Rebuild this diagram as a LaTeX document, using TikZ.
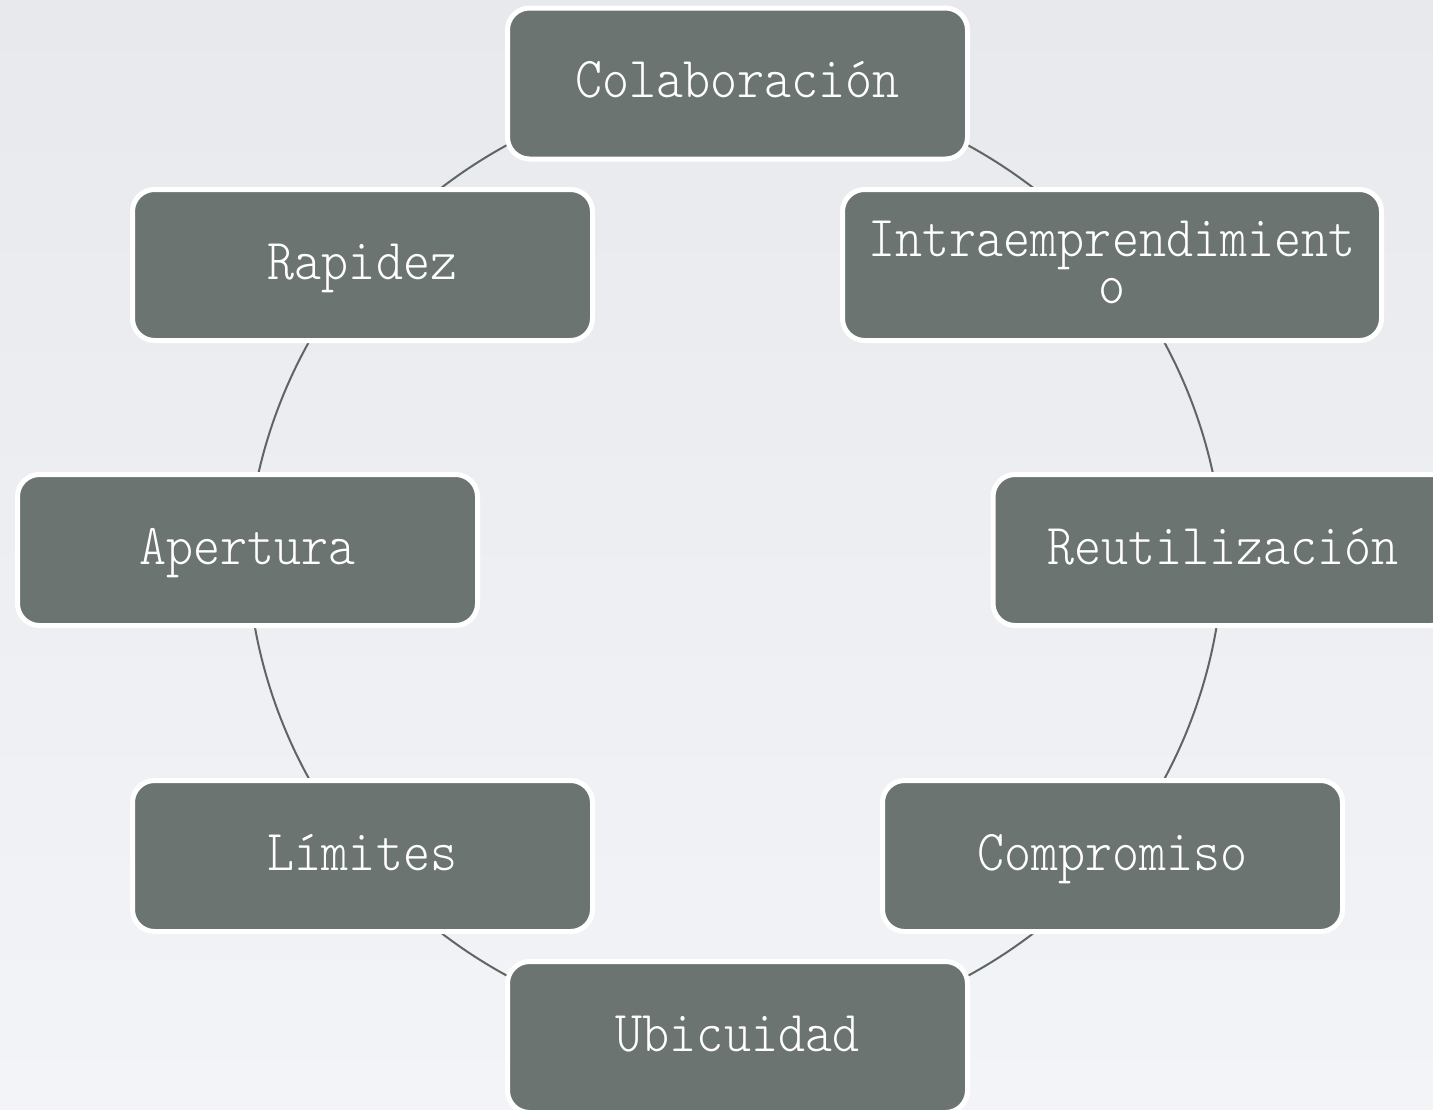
\documentclass[tikz,border=0pt]{standalone}
\usepackage{fontspec}
\newfontfamily\boxfont[FakeStretch=0.887]{lmmonolt10-regular.otf}
\pgfdeclarelayer{bg}
\pgfsetlayers{bg,main}
\definecolor{boxfill}{HTML}{6B7470}
\definecolor{linkc}{HTML}{5E6663}
\definecolor{bgtop}{HTML}{E7E9ED}
\definecolor{bgbot}{HTML}{F3F4F7}
\tikzset{
  cyclebox/.style={rectangle, rounded corners=22pt, fill=boxfill, draw=white,
    line width=5pt, minimum width=460pt, minimum height=151pt, inner sep=0pt,
    text=white, font=\boxfont\fontsize{58}{47}\selectfont,
    text height=28pt, text depth=0pt},
  link/.style={draw=linkc, line width=2pt, looseness=0.86},
}
\begin{document}
\begin{tikzpicture}[x=1pt,y=-1pt]
\useasboundingbox (0,0) rectangle (1433,1109);
\begin{pgfonlayer}{bg}
  \fill[top color=bgtop, bottom color=bgbot] (0,0) rectangle (1433,1109);
\end{pgfonlayer}
\node[cyclebox] (colab) at (737.5,83.5) {Colaboración};
\node[cyclebox, minimum width=539pt, align=center, text height=76pt, text depth=0pt] (intra) at (1112,265) {Intraemprendimient\\o};
\node[cyclebox] (reuti) at (1223,550) {Reutilización};
\node[cyclebox] (comp) at (1112.5,856) {Compromiso};
\node[cyclebox] (ubic) at (737.5,1037) {Ubicuidad};
\node[cyclebox] (lim) at (362.5,856) {Límites};
\node[cyclebox] (apert) at (247.5,550) {Apertura};
\node[cyclebox] (rap) at (362.5,265) {Rapidez};
\begin{pgfonlayer}{bg}
  \draw[link] (colab.center) to[bend right=25.8] (rap.center);
  \draw[link] (rap.center) to[bend right=18.7] (apert.center);
  \draw[link] (apert.center) to[bend right=20] (lim.center);
  \draw[link] (lim.center) to[bend right=25.8] (ubic.center);
  \draw[link] (ubic.center) to[bend right=25.8] (comp.center);
  \draw[link] (comp.center) to[bend right=19.9] (reuti.center);
  \draw[link] (reuti.center) to[bend right=18.6] (intra.center);
  \draw[link] (intra.center) to[bend right=25.8] (colab.center);
\end{pgfonlayer}
\end{tikzpicture}
\end{document}
